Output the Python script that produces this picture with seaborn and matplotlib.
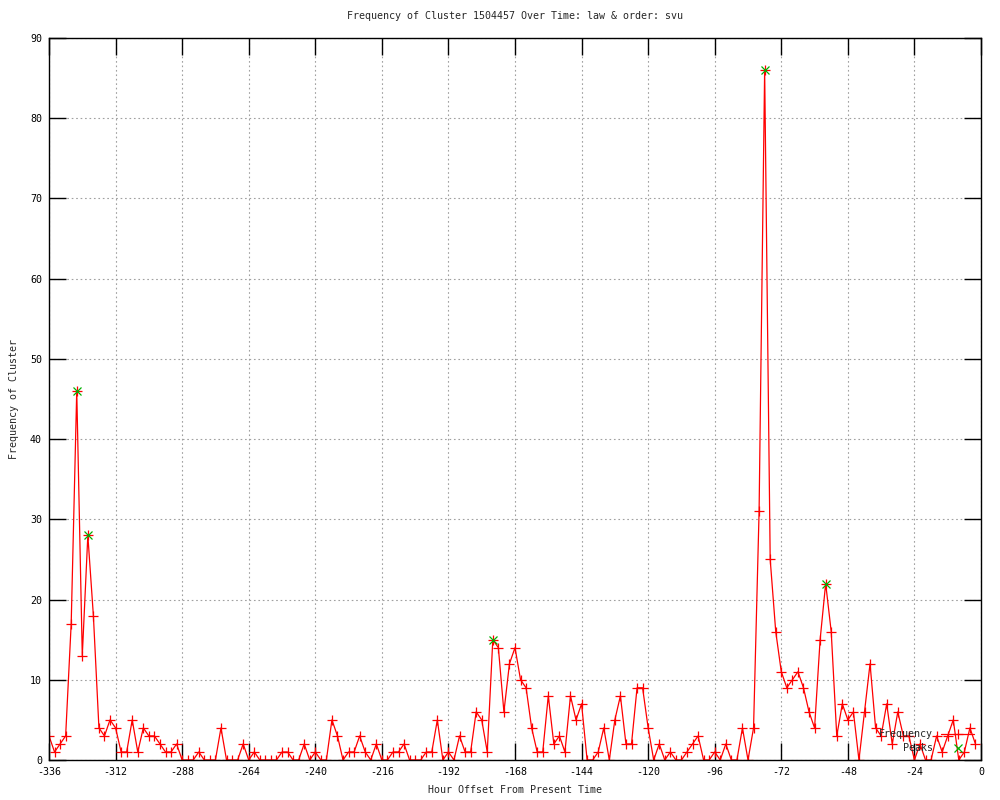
import matplotlib
matplotlib.use("Agg")
import matplotlib.pyplot as plt
import seaborn as sns
import pandas as pd

# hour offsets (every 2 hours) and cluster frequency
hours = list(range(-336, 0, 2))
frequency = [
    3, 1, 2, 3, 17, 46, 13, 28, 18, 4,      # -336 .. -318
    3, 5, 4, 1, 1, 5, 1, 4, 3, 3,           # -316 .. -298
    2, 1, 1, 2, 0, 0, 0, 1, 0, 0,           # -296 .. -278
    0, 4, 0, 0, 0, 2, 0, 1, 0, 0,           # -276 .. -258
    0, 0, 1, 1, 0, 0, 2, 0, 1, 0,           # -256 .. -238
    0, 5, 3, 0, 1, 1, 3, 1, 0, 2,           # -236 .. -218
    0, 0, 1, 1, 2, 0, 0, 0, 1, 1,           # -216 .. -198
    5, 0, 1, 0, 3, 1, 1, 6, 5, 1,           # -196 .. -178
    15, 14, 6, 12, 14, 10, 9, 4, 1, 1,      # -176 .. -158
    8, 2, 3, 1, 8, 5, 7, 0, 0, 1,           # -156 .. -138
    4, 0, 5, 8, 2, 2, 9, 9, 4, 0,           # -136 .. -118
    2, 0, 1, 0, 0, 1, 2, 3, 0, 0,           # -116 .. -98
    1, 0, 2, 0, 0, 4, 0, 4, 31, 86,         # -96 .. -78
    25, 16, 11, 9, 10, 11, 9, 6, 4, 15,     # -76 .. -58
    22, 16, 3, 7, 5, 6, 0, 6, 12, 4,        # -56 .. -38
    3, 7, 2, 6, 3, 3, 0, 2, 0, 0,           # -36 .. -18
    3, 1, 3, 5, 0, 1, 4, 2,                 # -16 .. -2
]

peak_hours = [-326, -322, -176, -78, -56]
peak_values = [46, 28, 15, 86, 22]

df = pd.DataFrame({"hour": hours, "freq": frequency})
peaks = pd.DataFrame({"hour": peak_hours, "freq": peak_values})

sns.set_style("white")
plt.rcParams["font.family"] = ["DejaVu Sans Mono", "DejaVu Sans"]
plt.rcParams["font.size"] = 7.2
plt.rcParams["axes.unicode_minus"] = False

fig = plt.figure(figsize=(10, 8), dpi=100)
ax = fig.add_axes([0.049, 0.05, 0.932, 0.9025])

sns.lineplot(data=df, x="hour", y="freq", ax=ax, color="red", linewidth=0.9,
             marker="+", markersize=7, markeredgewidth=0.9,
             markeredgecolor="red", label="Frequency")
ax.plot(peaks["hour"], peaks["freq"], linestyle="none", marker="x",
        color="#00b000", markersize=5.5, markeredgewidth=0.9, label="Peaks")

ax.set_xlim(-336, 0)
ax.set_ylim(0, 90)
ax.set_xticks(range(-336, 1, 24))
ax.set_yticks(range(0, 91, 10))
ax.tick_params(direction="in", length=12, width=1, bottom=True, left=True,
               top=True, right=True, labelsize=7.2, pad=5, colors="black")
ax.grid(True, linestyle=(0, (1.5, 2.5)), color="#a0a0a0", linewidth=0.8)
for s in ax.spines.values():
    s.set_color("black")
    s.set_linewidth(1)

ax.set_title("Frequency of Cluster 1504457 Over Time: law & order: svu",
             fontsize=7.2, pad=14)
ax.set_xlabel("Hour Offset From Present Time", fontsize=7.2, labelpad=6)
ax.set_ylabel("Frequency of Cluster", fontsize=7.2, labelpad=8)

ax.legend(loc="lower right", frameon=False, markerfirst=False, fontsize=7.2,
          handlelength=3.3, labelspacing=0.4, borderaxespad=0.3, numpoints=1)

fig.savefig("out.png", dpi=100)
